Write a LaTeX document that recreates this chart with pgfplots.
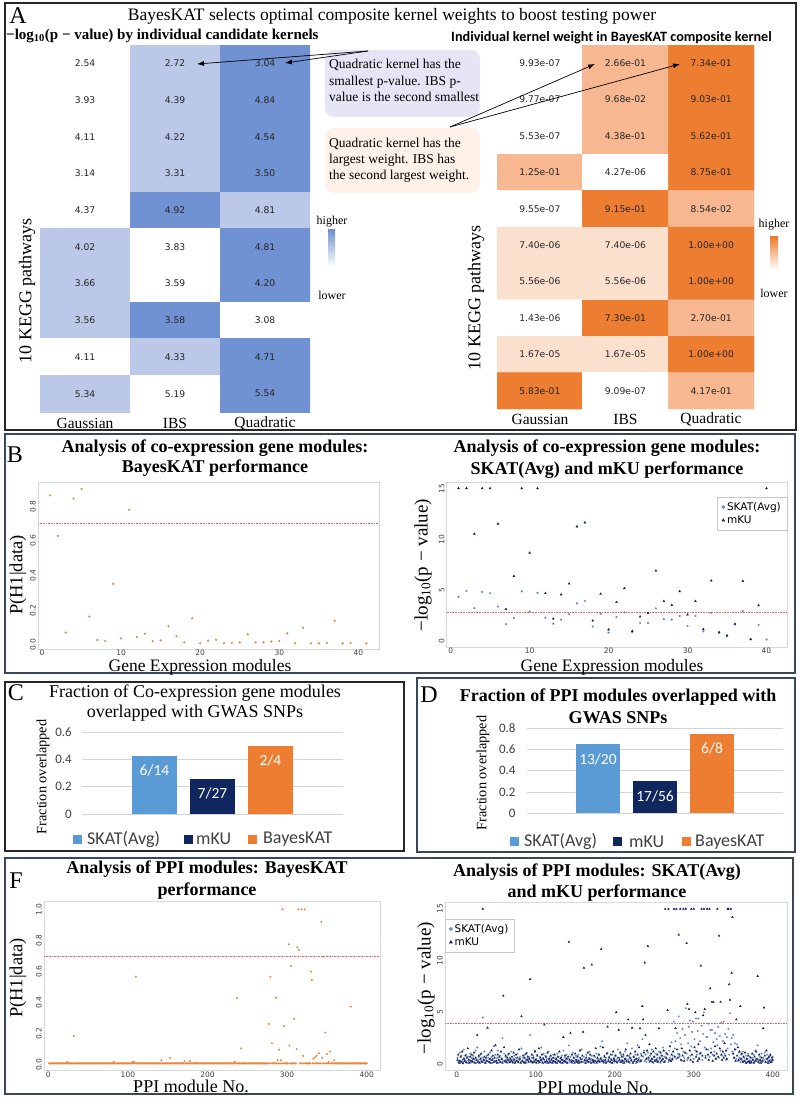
\documentclass[border=0pt]{standalone}
\usepackage{fontspec}
\usepackage{pgfplots}
\usepackage{pgfplotstable}
\pgfplotsset{compat=1.18}
\usetikzlibrary{arrows.meta}
\setmainfont{Liberation Serif}
\newfontfamily\dvs{DejaVu Sans}
\newfontfamily\carl{Carlito}
\newcommand\fs[1]{\fontsize{#1}{#1}\selectfont}

\definecolor{hmBlueL}{RGB}{188,200,232}
\definecolor{hmBlueD}{RGB}{112,146,210}
\definecolor{hmOrL}{RGB}{252,224,206}
\definecolor{hmOrM}{RGB}{247,183,145}
\definecolor{hmOrD}{RGB}{237,125,49}
\definecolor{ptOr}{RGB}{232,135,60}
\definecolor{skatbar}{RGB}{91,155,213}
\definecolor{mkubar}{RGB}{16,38,94}
\definecolor{bkbar}{RGB}{237,125,49}
\definecolor{skatpt}{RGB}{105,140,200}
\definecolor{mkupt}{RGB}{18,30,95}
\definecolor{frm}{RGB}{212,216,226}
\definecolor{thr}{RGB}{225,95,95}
\definecolor{boxS}{RGB}{58,70,90}
\definecolor{lav}{RGB}{229,229,245}
\definecolor{peach}{RGB}{253,241,232}
\definecolor{txt}{RGB}{64,64,64}

% -log10(p) per KEGG pathway and kernel; c = rank within the row (colour)
\pgfplotstableread{
x y c v
0 0 0 2.54
1 0 1 2.72
2 0 2 3.04
0 1 0 3.93
1 1 1 4.39
2 1 2 4.84
0 2 0 4.11
1 2 1 4.22
2 2 2 4.54
0 3 0 3.14
1 3 1 3.31
2 3 2 3.50
0 4 0 4.37
1 4 2 4.92
2 4 1 4.81
0 5 1 4.02
1 5 0 3.83
2 5 2 4.81
0 6 1 3.66
1 6 0 3.59
2 6 2 4.20
0 7 1 3.56
1 7 2 3.58
2 7 0 3.08
0 8 0 4.11
1 8 1 4.33
2 8 2 4.71
0 9 1 5.34
1 9 0 5.19
2 9 2 5.54
}\kernP

% kernel weights in the BayesKAT composite kernel; c = colour class
\pgfplotstableread{
x y c v
0 0 0 9.93e-07
1 0 2 2.66e-01
2 0 3 7.34e-01
0 1 0 9.77e-07
1 1 2 9.68e-02
2 1 3 9.03e-01
0 2 0 5.53e-07
1 2 2 4.38e-01
2 2 3 5.62e-01
0 3 2 1.25e-01
1 3 0 4.27e-06
2 3 3 8.75e-01
0 4 0 9.55e-07
1 4 3 9.15e-01
2 4 2 8.54e-02
0 5 1 7.40e-06
1 5 1 7.40e-06
2 5 3 1.00e+00
0 6 1 5.56e-06
1 6 1 5.56e-06
2 6 3 1.00e+00
0 7 0 1.43e-06
1 7 3 7.30e-01
2 7 2 2.70e-01
0 8 1 1.67e-05
1 8 1 1.67e-05
2 8 3 1.00e+00
0 9 3 5.83e-01
1 9 0 9.09e-07
2 9 2 4.17e-01
}\kernW

% co-expression gene modules: BayesKAT posterior
\pgfplotstableread{
x p
1 0.863
2 0.629
3 0.072
4 0.844
5 0.900
6 0.164
7 0.029
8 0.023
9 0.353
10 0.038
11 0.780
12 0.047
13 0.065
14 0.022
15 0.027
16 0.108
17 0.050
18 0.015
19 0.154
20 0.010
21 0.025
22 0.030
23 0.010
24 0.012
25 0.015
26 0.062
27 0.015
28 0.015
29 0.020
30 0.023
31 0.067
32 0.010
33 0.100
34 0.010
35 0.010
36 0.012
37 0.140
38 0.010
39 0.012
41 0.010
}\geneB

% co-expression gene modules: -log10(p) of SKAT(Avg) and mKU
\pgfplotstableread{
x s m
1 4.37 15
2 4.95 15
3 3.27 10.55
4 4.86 15
5 4.73 15
6 3.43 11.52
7 1.69 3.17
8 2.30 6.41
9 4.91 15
10 2.95 8.68
11 4.76 15
12 2.33 4.73
13 1.75 2.23
14 2.14 4.60
15 2.66 5.67
16 3.73 11.26
17 3.98 11.65
18 1.46 2.04
19 2.72 4.66
20 0.88 1.17
21 2.39 3.85
22 2.85 5.21
23 0.90 1.02
24 1.82 2.43
25 1.82 2.78
26 3.24 6.93
27 2.20 3.95
28 2.14 3.56
29 2.50 4.91
30 1.52 2.62
31 2.50 3.95
32 1.00 1.20
33 2.82 5.96
34 0.85 0.90
35 0.55 0.58
36 1.65 1.72
37 2.98 5.92
38 0.20 0.22
39 1.63 3.53
40 0.20 15
}\geneS

% PPI modules: b = BayesKAT posterior, s = SKAT(Avg) and m = mKU -log10(p)
\pgfplotstableread[row sep=\\]{
x b s m\\
1 0.01 0.6 0.4\\ 2 0.01 0.2 0.9\\ 3 0.01 0.3 0.1\\ 4 0.01 1.1 0.3\\ 5 0.01 0.1 0.7\\
6 0.01 0.8 0.2\\ 7 0.01 0.4 1.2\\ 8 0.01 0.2 0.05\\ 9 0.01 1.4 0.5\\ 10 0.01 0.5 0.3\\
11 0.01 0.3 0.8\\ 12 0.01 0.9 0.15\\ 13 0.01 0.1 0.6\\ 14 0.01 0.7 1.5\\ 15 0.01 0.2 0.4\\
16 0.01 0.4 0.1\\ 17 0.01 1.0 0.7\\ 18 0.01 0.15 0.3\\ 19 0.01 0.6 0.9\\ 20 0.01 0.3 0.2\\
21 0.01 0.8 0.5\\ 22 0.01 0.2 1.1\\ 23 0.01 0.5 0.1\\ 24 0.02 1.3 0.6\\ 25 0.01 0.1 0.35\\
26 0.01 1.6 2.8\\ 27 0.01 0.4 0.2\\ 28 0.01 0.7 0.8\\ 29 0.01 0.2 0.1\\ 30 0.01 0.9 0.5\\
31 0.01 0.3 1.0\\ 32 0.186 0.6 0.2\\ 33 0.01 4.5 15\\ 34 0.01 0.2 0.4\\ 35 0.01 1.2 0.7\\
36 0.01 0.4 0.1\\ 37 0.01 0.1 0.6\\ 38 0.01 0.8 0.3\\ 39 0.01 0.3 3.5\\ 40 0.01 0.6 0.9\\
41 0.01 0.2 0.2\\ 42 0.01 1.1 0.5\\ 43 0.01 0.4 0.1\\ 44 0.01 0.7 1.3\\ 45 0.01 0.1 0.4\\
46 0.01 0.5 0.8\\ 47 0.01 1.7 0.2\\ 48 0.01 0.3 0.6\\ 49 0.01 0.9 1.8\\ 50 0.01 0.2 0.3\\
51 0.01 0.6 0.1\\ 52 0.01 1.3 0.9\\ 53 0.01 0.1 0.4\\ 54 0.01 0.4 0.7\\ 55 0.01 0.8 0.2\\
56 0.01 0.2 1.2\\ 57 0.01 0.5 0.5\\ 58 0.01 2.5 0.1\\ 59 0.01 0.3 6.6\\ 60 0.01 1.0 1.6\\
61 0.01 0.2 0.3\\ 62 0.01 0.7 0.8\\ 63 0.01 0.4 0.2\\ 64 0.01 0.1 0.6\\ 65 0.01 0.9 0.4\\
66 0.01 0.3 1.0\\ 67 0.01 0.6 0.15\\ 68 0.01 0.2 0.5\\ 69 0.01 1.2 0.3\\ 70 0.01 0.4 0.7\\
71 0.01 0.1 0.2\\ 72 0.01 0.5 1.1\\ 73 0.01 0.8 0.4\\ 74 0.01 0.2 0.1\\ 75 0.01 0.6 0.9\\
76 0.01 0.3 0.3\\ 77 0.01 1.0 0.6\\ 78 0.01 0.15 0.2\\ 79 0.01 0.4 1.4\\ 80 0.01 0.7 0.5\\
81 0.01 0.2 0.1\\ 82 0.02 1.5 4.6\\ 83 0.01 0.3 0.3\\ 84 0.01 0.6 0.8\\ 85 0.01 0.1 0.2\\
86 0.01 0.9 0.6\\ 87 0.01 0.4 0.1\\ 88 0.01 0.2 1.0\\ 89 0.01 1.1 0.4\\ 90 0.01 0.5 0.7\\
91 0.01 0.3 0.2\\ 92 0.01 0.7 0.5\\ 93 0.01 2.8 8.2\\ 94 0.01 0.2 0.3\\ 95 0.01 0.6 0.9\\
96 0.01 0.1 0.15\\ 97 0.01 0.8 0.6\\ 98 0.01 0.4 0.2\\ 99 0.01 1.3 1.2\\ 100 0.01 0.2 0.4\\
101 0.01 0.5 0.1\\ 102 0.01 0.9 0.8\\ 103 0.01 0.3 0.3\\ 104 0.01 0.1 1.5\\ 105 0.01 0.7 0.2\\
106 0.02 0.4 0.6\\ 107 0.01 1.6 0.4\\ 108 0.02 0.2 0.9\\ 109 0.01 0.6 0.1\\ 110 0.567 1.0 0.5\\
111 0.01 0.3 3.8\\ 112 0.01 0.8 0.2\\ 113 0.01 0.1 0.7\\ 114 0.01 0.5 0.3\\ 115 0.01 0.2 1.1\\
116 0.01 1.2 0.1\\ 117 0.01 0.4 0.5\\ 118 0.01 0.7 0.2\\ 119 0.01 0.15 0.8\\ 120 0.01 0.5 0.4\\
121 0.01 0.3 0.1\\ 122 0.01 0.9 0.6\\ 123 0.01 0.2 0.3\\ 124 0.01 0.6 0.9\\ 125 0.01 0.1 0.2\\
126 0.01 0.4 0.5\\ 127 0.01 1.0 0.1\\ 128 0.01 0.3 0.7\\ 129 0.01 0.7 0.3\\ 130 0.01 0.2 1.2\\
131 0.01 0.5 0.2\\ 132 0.01 0.1 0.6\\ 133 0.01 0.8 0.4\\ 134 0.01 0.4 0.1\\ 135 0.01 1.3 2.6\\
136 0.01 0.2 0.3\\ 137 0.01 0.6 0.8\\ 138 0.01 0.3 0.2\\ 139 0.01 0.9 0.5\\ 140 0.01 0.1 0.1\\
141 0.01 0.5 0.7\\ 142 0.03 1.8 11.8\\ 143 0.01 0.2 0.4\\ 144 0.01 0.7 3.0\\ 145 0.01 0.4 0.2\\
146 0.01 0.1 0.9\\ 147 0.01 1.1 0.3\\ 148 0.01 0.3 0.6\\ 149 0.01 0.6 0.1\\ 150 0.01 0.2 1.0\\
151 0.01 0.8 0.4\\ 152 0.01 0.4 0.2\\ 153 0.045 0.1 0.7\\ 154 0.01 0.9 0.3\\ 155 0.01 0.3 0.1\\
156 0.01 0.6 1.3\\ 157 0.01 0.2 0.5\\ 158 0.01 1.4 0.2\\ 159 0.01 0.5 0.8\\ 160 0.01 0.2 3.1\\
161 0.01 0.7 9.3\\ 162 0.01 0.3 0.4\\ 163 0.01 0.1 0.1\\ 164 0.01 0.9 0.6\\ 165 0.01 0.4 0.3\\
166 0.01 0.2 1.1\\ 167 0.01 0.6 0.2\\ 168 0.01 1.2 0.5\\ 169 0.01 0.3 0.9\\ 170 0.01 0.5 0.1\\
171 0.025 0.8 9.6\\ 172 0.01 0.2 0.4\\ 173 0.01 0.4 0.2\\ 174 0.01 0.1 0.8\\ 175 0.01 0.7 0.3\\
176 0.01 0.3 1.5\\ 177 0.01 1.0 0.1\\ 178 0.025 0.2 0.6\\ 179 0.01 0.5 0.3\\ 180 0.01 0.9 0.9\\
181 0.01 0.3 0.2\\ 182 0.01 1.7 0.5\\ 183 0.01 0.6 11.1\\ 184 0.01 2.2 0.3\\ 185 0.015 0.4 1.6\\
186 0.01 0.1 0.2\\ 187 0.01 0.8 0.7\\ 188 0.01 0.3 0.4\\ 189 0.01 0.6 0.1\\ 190 0.01 0.2 1.0\\
191 0.01 1.1 3.6\\ 192 0.01 0.4 0.3\\ 193 0.01 0.7 0.6\\ 194 0.01 0.2 0.2\\ 195 0.01 0.5 0.9\\
196 0.01 0.1 0.4\\ 197 0.01 0.9 0.1\\ 198 0.01 0.3 1.2\\ 199 0.01 0.6 0.5\\ 200 0.01 0.2 0.3\\
201 0.01 0.8 0.8\\ 202 0.01 0.4 5.0\\ 203 0.01 0.1 0.2\\ 204 0.01 1.4 0.6\\ 205 0.01 0.3 3.3\\
206 0.01 0.6 0.4\\ 207 0.01 0.2 1.1\\ 208 0.01 0.9 0.2\\ 209 0.01 0.4 0.7\\ 210 0.01 0.1 0.3\\
211 0.01 0.7 0.9\\ 212 0.01 0.3 0.1\\ 213 0.01 1.2 0.5\\ 214 0.01 0.5 1.4\\ 215 0.01 0.2 0.3\\
216 0.01 2.0 0.8\\ 217 0.01 0.4 4.3\\ 218 0.01 0.8 0.2\\ 219 0.01 0.1 0.6\\ 220 0.01 0.6 1.0\\
221 0.01 0.3 0.4\\ 222 0.01 1.5 3.5\\ 223 0.01 0.2 0.1\\ 224 0.01 0.7 0.7\\ 225 0.01 0.4 0.3\\
226 0.01 0.9 1.2\\ 227 0.01 0.1 0.5\\ 228 0.01 0.5 0.2\\ 229 0.01 1.8 0.9\\ 230 0.01 0.3 0.4\\
231 0.01 0.6 1.6\\ 232 0.01 0.2 3.45\\ 233 0.01 1.0 0.3\\ 234 0.02 0.4 0.8\\ 235 0.01 2.4 5.6\\
236 0.01 0.7 4.3\\ 237 0.43 1.3 1.1\\ 238 0.01 0.3 9.8\\ 239 0.01 0.9 2.8\\ 240 0.01 0.2 0.5\\
241 0.01 0.6 1.3\\ 242 0.107 1.1 11.4\\ 243 0.01 0.4 0.6\\ 244 0.01 0.2 1.9\\ 245 0.01 0.8 0.3\\
246 0.01 0.3 1.0\\ 247 0.01 1.4 0.5\\ 248 0.01 0.5 0.2\\ 249 0.01 0.1 1.2\\ 250 0.01 0.7 0.7\\
251 0.01 0.4 0.3\\ 252 0.01 1.0 1.5\\ 253 0.01 0.2 0.4\\ 254 0.01 0.6 0.9\\ 255 0.01 0.3 0.2\\
256 0.01 1.2 3.45\\ 257 0.01 0.5 0.6\\ 258 0.01 0.1 1.1\\ 259 0.01 0.8 0.3\\ 260 0.01 0.4 0.8\\
261 0.01 1.6 0.5\\ 262 0.01 0.2 1.3\\ 263 0.01 0.7 0.2\\ 264 0.01 0.3 15\\ 265 0.01 1.1 0.6\\
266 0.01 0.5 1.0\\ 267 0.01 0.9 5.2\\ 268 0.01 0.2 15\\ 269 0.01 1.3 0.4\\ 270 0.01 0.6 1.7\\
271 0.01 0.3 0.3\\ 272 0.01 2.1 0.9\\ 273 0.01 0.4 0.5\\ 274 0.01 0.8 1.2\\ 275 0.01 4.1 15\\
276 0.01 1.5 0.7\\ 277 0.263 2.2 3.45\\ 278 0.01 0.5 15\\ 279 0.567 3.0 1.4\\ 280 0.01 1.0 0.6\\
281 0.139 4.6 12.5\\ 282 0.01 0.7 0.9\\ 283 0.01 2.5 15\\ 284 0.01 1.9 0.4\\ 285 0.01 0.3 1.5\\
286 0.432 3.4 0.8\\ 287 0.01 1.2 15\\ 288 0.03 0.6 0.3\\ 289 0.01 2.8 1.1\\ 290 0.098 5.4 15\\
291 0.01 1.0 11.7\\ 292 0.03 0.4 5.8\\ 293 0.01 2.0 0.6\\ 294 1.0 3.6 5.3\\ 295 0.01 4.2 1.3\\
296 0.25 0.8 0.4\\ 297 0.01 1.7 15\\ 298 0.01 3.1 0.9\\ 299 0.01 4.1 0.2\\ 300 0.01 0.5 15\\
301 0.01 2.4 1.6\\ 302 0.775 1.3 5.0\\ 303 0.124 4.4 0.7\\ 304 0.01 0.9 1.2\\ 305 0.636 3.2 0.3\\
306 0.01 4.4 1.9\\ 307 0.01 0.6 0.5\\ 308 0.01 2.2 1.0\\ 309 0.297 1.1 9.5\\ 310 0.01 3.7 15\\
311 0.01 0.4 0.8\\ 312 0.103 2.9 4.7\\ 313 0.756 5.0 15\\ 314 1.0 1.6 5.3\\ 315 0.739 0.8 0.6\\
316 0.01 2.6 1.4\\ 317 0.01 2.6 15\\ 318 1.0 1.4 0.9\\ 319 0.01 3.9 0.4\\ 320 0.058 0.7 15\\
321 0.01 3.3 7.3\\ 322 1.0 1.5 1.1\\ 323 0.01 3.3 6.0\\ 324 0.01 0.9 0.3\\ 325 0.01 2.1 6.0\\
326 0.01 1.2 0.8\\ 327 0.01 3.0 1.7\\ 328 0.01 0.5 0.5\\ 329 0.01 2.4 1.0\\ 330 0.60 1.8 15\\
331 0.546 3.6 0.7\\ 332 0.01 0.6 12.4\\ 333 0.04 2.7 1.5\\ 334 0.01 1.3 6.0\\ 335 0.05 4.0 0.9\\
336 0.01 0.8 0.4\\ 337 0.06 2.2 1.2\\ 338 0.01 4.1 0.6\\ 339 0.01 1.0 2.0\\ 340 0.075 2.9 0.8\\
341 0.01 0.4 1.3\\ 342 0.01 2.6 0.5\\ 343 0.92 1.5 15\\ 344 0.045 3.4 15\\ 345 0.01 0.9 7.7\\
346 0.696 4.9 6.2\\ 347 0.01 1.9 15\\ 348 0.208 2.5 8.8\\ 349 0.01 1.2 14.2\\ 350 0.07 2.8 1.0\\
351 0.01 0.6 0.6\\ 352 0.02 2.0 1.4\\ 353 0.01 1.4 0.3\\ 354 0.086 0.5 4.3\\ 355 0.01 1.9 0.8\\
356 0.01 0.3 1.6\\ 357 0.01 1.1 0.4\\ 358 0.01 0.6 1.2\\ 359 0.03 0.2 5.6\\ 360 0.01 0.9 0.5\\
361 0.01 0.4 1.0\\ 362 0.01 1.2 0.2\\ 363 0.01 0.2 0.7\\ 364 0.01 0.6 0.3\\ 365 0.01 0.3 1.1\\
366 0.01 0.8 0.1\\ 367 0.01 0.1 0.5\\ 368 0.01 0.5 0.2\\ 369 0.01 1.0 0.8\\ 370 0.01 0.2 0.3\\
371 0.01 0.7 0.1\\ 372 0.01 0.3 0.6\\ 373 0.01 0.1 0.2\\ 374 0.01 0.6 1.0\\ 375 0.01 0.4 0.4\\
376 0.01 0.9 0.1\\ 377 0.01 0.2 0.7\\ 378 0.01 1.3 0.3\\ 379 0.01 0.5 1.2\\ 380 0.375 0.3 0.5\\
381 0.01 1.8 8.5\\ 382 0.01 0.4 0.2\\ 383 0.01 0.1 0.9\\ 384 0.01 0.7 0.4\\ 385 0.01 0.3 0.1\\
386 0.01 1.0 0.6\\ 387 0.01 0.2 0.3\\ 388 0.01 0.6 3.45\\ 389 0.01 0.4 5.45\\ 390 0.01 1.1 0.8\\
391 0.01 0.2 0.2\\ 392 0.01 0.5 1.3\\ 393 0.01 0.9 0.5\\ 394 0.01 0.3 0.1\\ 395 0.01 0.6 0.7\\
396 0.01 0.1 0.3\\ 397 0.01 0.8 0.9\\ 398 0.01 0.4 0.2\\ 399 0.01 0.2 0.6\\ 400 0.01 0.7 0.4\\
}\ppi

\pgfplotsset{
  heat/.style={scale only axis, enlargelimits=false, xmin=-0.5, xmax=2.5, ymin=-0.5, ymax=9.5,
    y dir=reverse, axis line style={draw=none}, xtick=\empty, ytick=\empty},
  cellnums/.style={only marks, mark=*, mark size=0.01pt, mark options={draw=none, fill=none},
    nodes near coords, point meta=explicit symbolic, nodes near coords align={center},
    every node near coord/.style={font=\dvs\fs{9.2}, text=black!85}},
  scat/.style={scale only axis, axis line style={draw=frm, line width=0.8pt}, major tick length=0pt,
    tick label style={font=\dvs\fs{7.5}, text=black!75},
    xticklabel style={inner sep=0pt, yshift=-0.8pt},
    yticklabel style={rotate=90, anchor=south, inner sep=2pt}},
  keybox/.style={draw=black!22, font=\dvs\fs{10.5}, inner xsep=4pt, inner ysep=3pt,
    row sep=0pt, cells={anchor=west}},
  frac/.style={scale only axis, xmin=-0.25, xmax=4.25, ymin=0, axis line style={draw=none},
    xtick=\empty, major tick length=0pt, ymajorgrids, grid style={draw=black!17, line width=0.7pt},
    tick label style={font=\carl\fs{13}, text=txt}, clip=false},
  fbar/.style={ybar, bar width=0.776, bar shift=0pt, draw=none, fill=#1,
    nodes near coords, point meta=explicit symbolic, nodes near coords align={center},
    every node near coord/.style={font=\carl\fs{15.5}, text=white, yshift=-15pt}},
}
\tikzset{panel/.style={font=\fs{24}, inner sep=0pt}}

\begin{document}
\begin{tikzpicture}[x=1pt,y=1pt]
\path[use as bounding box] (0,0) rectangle (798,-1099);
\fill[white] (0,0) rectangle (798,-1099);

% ---------------- panel frames
\draw[line width=1.4pt, black!85] (5,-3) rectangle (796,-430);
\draw[line width=1.4pt, boxS] (5,-434) rectangle (795,-673);
\draw[line width=1.4pt, black!85] (5,-682) rectangle (404,-851);
\draw[line width=1.4pt, boxS] (417,-678) rectangle (795,-852);
\draw[line width=1.4pt, boxS] (5,-858) rectangle (793,-1094);

% ---------------- A: heat maps
\node[panel] at (18,-16) {A};
\node[font=\fs{17.5}] at (392,-16) {BayesKAT selects optimal composite kernel weights to boost testing power};
\node[anchor=west, font=\bfseries\fs{15}, inner sep=0] at (6,-35.5) {−log\textsubscript{10}(p − value) by individual candidate kernels};
\node[font=\carl\bfseries\fs{14.2}] at (611.5,-38) {Individual kernel weight in BayesKAT composite kernel};

\begin{axis}[heat, at={(40pt,-412pt)}, anchor=south west, width=270pt, height=367pt,
  colormap={hb}{rgb255=(255,255,255) rgb255=(188,200,232) rgb255=(112,146,210)},
  point meta min=0, point meta max=2]
\addplot[matrix plot*, mesh/cols=3, point meta=explicit] table[x=x, y=y, meta=c] {\kernP};
\addplot[cellnums] table[x=x, y=y, meta=v] {\kernP};
\end{axis}

\begin{axis}[heat, at={(497pt,-409pt)}, anchor=south west, width=257pt, height=364pt,
  colormap={ho}{rgb255=(255,255,255) rgb255=(252,224,206) rgb255=(247,183,145) rgb255=(237,125,49)},
  point meta min=0, point meta max=3]
\addplot[matrix plot*, mesh/cols=3, point meta=explicit] table[x=x, y=y, meta=c] {\kernW};
\addplot[cellnums] table[x=x, y=y, meta=v] {\kernW};
\end{axis}

\foreach \lx/\lt in {85/Gaussian, 175/IBS, 265/Quadratic}
  \node[font=\fs{15.5}, inner sep=0] at (\lx,-423) {\lt};
\foreach \lx/\lt in {540/Gaussian, 625.5/IBS, 711/Quadratic}
  \node[font=\fs{15.5}, inner sep=0] at (\lx,-419) {\lt};
\node[rotate=90, font=\fs{18}] at (27,-291) {10 KEGG pathways};
\node[rotate=90, font=\fs{18}] at (476,-298) {10 KEGG pathways};

% colour keys
\node[font=\fs{12}] at (332,-222) {higher};
\shade[top color=hmBlueD, bottom color=white] (328,-230) rectangle (335,-267);
\node[font=\fs{12}] at (332,-295) {lower};
\node[font=\fs{12}] at (774,-225) {higher};
\shade[top color=hmOrD, bottom color=white] (770,-237) rectangle (778,-270);
\node[font=\fs{12}] at (774,-293) {lower};

% call-outs
\fill[lav, rounded corners=9pt] (325,-50) rectangle (480,-117);
\node[anchor=west, align=left, font=\fontsize{13.5}{16.7}\selectfont, inner sep=0] at (329,-80.5)
  {Quadratic kernel has the\\smallest p-value. IBS p-\\value is the second smallest};
\fill[peach, rounded corners=9pt] (325,-128) rectangle (480,-193);
\node[anchor=west, align=left, font=\fontsize{13.5}{16}\selectfont, inner sep=0] at (329,-160)
  {Quadratic kernel has the\\largest weight. IBS has\\the second largest weight.};
\draw[-{Latex[length=7pt,width=5pt]}, line width=0.7pt] (368,-51) -- (197,-64);
\draw[-{Latex[length=7pt,width=5pt]}, line width=0.7pt] (368,-51) -- (285,-63);
\draw[-{Latex[length=7pt,width=5pt]}, line width=0.7pt] (450,-127) -- (595,-64);
\draw[-{Latex[length=7pt,width=5pt]}, line width=0.7pt] (450,-127) -- (680,-64);

% ---------------- B: co-expression gene modules
\node[panel] at (15,-455) {B};
\node[align=center, font=\bfseries\fontsize{18}{20}\selectfont] at (215,-458)
  {Analysis of co-expression gene modules:\\BayesKAT performance};
\node[align=center, font=\bfseries\fontsize{18}{22}\selectfont] at (607,-459)
  {Analysis of co-expression gene modules:\\SKAT(Avg) and mKU performance};

\begin{axis}[scat, at={(38pt,-649pt)}, anchor=south west, width=341pt, height=167pt,
  xmin=-0.5, xmax=42.6, ymin=-0.023, ymax=0.94,
  xtick={0,10,20,30,40}, xticklabels={0,10,20,30,40},
  ytick={0,0.2,0.4,0.6,0.8}, yticklabels={0.0,0.2,0.4,0.6,0.8}]
\addplot[thr, densely dotted, line width=0.6pt] coordinates {(-0.5,0.7) (42.6,0.7)};
\addplot[only marks, mark=*, mark size=0.9pt, color=ptOr] table[x=x, y=p] {\geneB};
\end{axis}
\node[rotate=90, font=\fs{18.5}] at (18,-575) {P(H1|data)};
\node[font=\fs{17.5}, inner sep=0] at (200,-667) {Gene Expression modules};

\begin{axis}[scat, at={(446.7pt,-647pt)}, anchor=south west, width=340.3pt, height=164.5pt,
  xmin=-0.5, xmax=42.6, ymin=-0.54, ymax=15.57,
  xtick={0,10,20,30,40}, xticklabels={0,10,20,30,40},
  ytick={0,5,10,15}, yticklabels={0,5,10,15},
  legend style={keybox, at={(1,0.911)}, anchor=north east},
  legend image post style={mark size=1.7pt}]
\addplot[only marks, mark=*, mark size=0.9pt, color=skatpt] table[x=x, y=s] {\geneS};
\addlegendentry{SKAT(Avg)}
\addplot[only marks, mark=triangle*, mark size=1.1pt, color=mkupt] table[x=x, y=m] {\geneS};
\addlegendentry{mKU}
\addplot[thr, densely dotted, line width=0.6pt, forget plot] coordinates {(-0.5,2.86) (42.6,2.86)};
\end{axis}
\node[rotate=90, font=\fs{19}] at (423,-565) {−log\textsubscript{10}(p − value)};
\node[font=\fs{17.5}, inner sep=0] at (612,-667) {Gene Expression modules};

% ---------------- C: fraction of co-expression modules overlapping GWAS SNPs
\node[panel] at (16,-693) {C};
\node[align=center, font=\fontsize{18}{20}\selectfont] at (195,-703)
  {Fraction of Co-expression gene modules\\overlapped with GWAS SNPs};
\begin{axis}[frac, at={(82pt,-814pt)}, anchor=south west, width=261pt, height=81.7pt,
  ymax=0.6, ytick={0,0.2,0.4,0.6}, yticklabels={0,0.2,0.4,0.6},
  yticklabel style={inner sep=0pt, xshift=-10pt}]
\addplot[fbar=skatbar] coordinates {(1,0.4286) [6/14]};
\addplot[fbar=mkubar] coordinates {(2,0.2593) [7/27]};
\addplot[fbar=bkbar] coordinates {(3,0.5) [2/4]};
\end{axis}
\node[rotate=90, font=\fs{14.3}] at (43,-777) {Fraction overlapped};
\fill[skatbar] (73,-834.5) rectangle (82,-843.5);
\node[anchor=west, inner sep=0, font=\carl\fs{18}, text=txt] at (87,-839) {SKAT(Avg)};
\fill[mkubar] (184,-834.5) rectangle (193,-843.5);
\node[anchor=west, inner sep=0, font=\carl\fs{18}, text=txt] at (196,-839) {mKU};
\fill[bkbar] (248,-834.5) rectangle (257,-843.5);
\node[anchor=west, inner sep=0, font=\carl\fs{18}, text=txt] at (263,-839) {BayesKAT};

% ---------------- D: fraction of PPI modules overlapping GWAS SNPs
\node[panel] at (429,-695) {D};
\node[align=center, font=\bfseries\fontsize{18}{22}\selectfont] at (618,-706)
  {Fraction of PPI modules overlapped with\\GWAS SNPs};
\begin{axis}[frac, at={(526.7pt,-813.3pt)}, anchor=south west, width=256.6pt, height=85pt,
  ymax=0.8, ytick={0,0.2,0.4,0.6,0.8}, yticklabels={0,0.2,0.4,0.6,0.8},
  yticklabel style={inner sep=0pt, xshift=-11pt}]
\addplot[fbar=skatbar] coordinates {(1,0.65) [13/20]};
\addplot[fbar=mkubar] coordinates {(2,0.3036) [17/56]};
\addplot[fbar=bkbar] coordinates {(3,0.75) [6/8]};
\end{axis}
\node[rotate=90, font=\fs{14.3}] at (483,-773) {Fraction overlapped};
\fill[skatbar] (510,-837.2) rectangle (519,-846.2);
\node[anchor=west, inner sep=0, font=\carl\fs{18}, text=txt] at (524,-841.7) {SKAT(Avg)};
\fill[mkubar] (613,-837.2) rectangle (622,-846.2);
\node[anchor=west, inner sep=0, font=\carl\fs{18}, text=txt] at (629,-841.7) {mKU};
\fill[bkbar] (682,-837.2) rectangle (691,-846.2);
\node[anchor=west, inner sep=0, font=\carl\fs{18}, text=txt] at (695,-841.7) {BayesKAT};

% ---------------- F: PPI modules
\node[panel] at (16,-881) {F};
\node[align=center, font=\bfseries\fontsize{18}{22}\selectfont] at (207,-880)
  {Analysis of PPI modules: BayesKAT\\performance};
\node[align=center, font=\bfseries\fontsize{18}{21.5}\selectfont] at (597,-882.5)
  {Analysis of PPI modules: SKAT(Avg)\\and mKU performance};

\begin{axis}[scat, at={(44pt,-1070.7pt)}, anchor=south west, width=336pt, height=169pt,
  xmin=-5.4, xmax=416.7, ymin=-0.037, ymax=1.049,
  xtick={0,100,200,300,400}, xticklabels={0,100,200,300,400},
  ytick={0,0.2,0.4,0.6,0.8,1.0}, yticklabels={0.0,0.2,0.4,0.6,0.8,1.0}]
\addplot[thr, densely dotted, line width=0.6pt] coordinates {(-5.4,0.7) (416.7,0.7)};
\addplot[only marks, mark=*, mark size=0.8pt, color=ptOr] table[x=x, y=b] {\ppi};
\end{axis}
\node[rotate=90, font=\fs{18.5}] at (18,-978) {P(H1|data)};
\node[font=\fs{18}, inner sep=0] at (191,-1086) {PPI module No.};

\begin{axis}[scat, at={(445pt,-1070.7pt)}, anchor=south west, width=342.3pt, height=168pt,
  xmin=-14.8, xmax=418.5, ymin=-0.65, ymax=15.6,
  xtick={0,100,200,300,400}, xticklabels={0,100,200,300,400},
  ytick={0,5,10,15}, yticklabels={0,5,10,15},
  legend style={keybox, at={(0,0.903)}, anchor=north west},
  legend image post style={mark size=1.7pt}]
\addplot[only marks, mark=*, mark size=0.8pt, color=skatpt] table[x=x, y=s] {\ppi};
\addlegendentry{SKAT(Avg)}
\addplot[only marks, mark=triangle*, mark size=1pt, color=mkupt] table[x=x, y=m] {\ppi};
\addlegendentry{mKU}
\addplot[thr, densely dotted, line width=0.6pt, forget plot] coordinates {(-14.8,3.9) (418.5,3.9)};
\end{axis}
\node[rotate=90, font=\fs{19}] at (426,-988) {−log\textsubscript{10}(p − value)};
\node[font=\fs{18}, inner sep=0] at (595,-1087) {PPI module No.};
\end{tikzpicture}
\end{document}
